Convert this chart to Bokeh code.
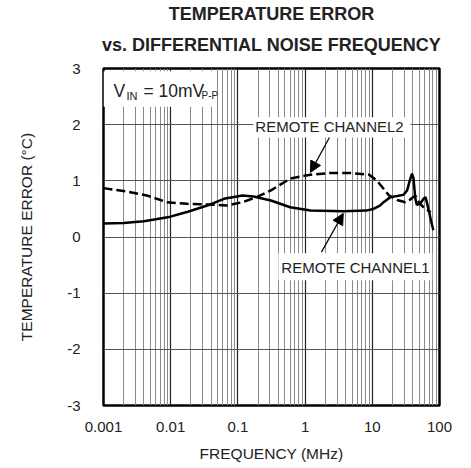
import math
from bokeh.plotting import figure
from bokeh.models import FixedTicker, Title, Label, Arrow, NormalHead, Range1d
from bokeh.embed import file_html
from bokeh.resources import INLINE

FONT = "Liberation Sans"

# ---- data ----
freq_ch1 = [0.001, 0.002, 0.004, 0.009, 0.018, 0.035, 0.062, 0.117, 0.17, 0.31, 0.6, 1.2,
            3.7, 8, 10.4, 13, 14.7, 18.6, 23.4, 29, 33, 36, 39, 41, 43.6, 46, 52, 58, 62,
            66, 70, 75, 81]
temp_ch1 = [0.24, 0.25, 0.28, 0.35, 0.45, 0.56, 0.68, 0.74, 0.72, 0.65, 0.53, 0.47,
            0.46, 0.47, 0.5, 0.56, 0.62, 0.71, 0.73, 0.75, 0.83, 1.0, 1.13, 1.05, 0.69, 0.57,
            0.6, 0.68, 0.71, 0.58, 0.45, 0.28, 0.12]

freq_ch2 = [0.001, 0.0022, 0.0044, 0.0088, 0.0175, 0.035, 0.069, 0.117, 0.19, 0.31, 0.6,
            1.2, 2.4, 4.7, 9, 11.8, 14.7, 17.7, 23.4, 31, 36, 41.5, 45, 50, 58, 66, 74]
temp_ch2 = [0.87, 0.81, 0.74, 0.62, 0.59, 0.58, 0.56, 0.62, 0.71, 0.83, 1.04,
            1.11, 1.14, 1.14, 1.11, 1.0, 0.86, 0.74, 0.66, 0.62, 0.66, 0.72, 0.72, 0.6, 0.53, 0.48, 0.44]

x_ticks = [0.001, 0.01, 0.1, 1, 10, 100]
x_tick_labels = ["0.001", "0.01", "0.1", "1", "10", "100"]
y_ticks = [-3, -2, -1, 0, 1, 2, 3]
y_tick_labels = ["-3", "-2", "-1", "0", "1", "2", "3"]

title_lines = ["TEMPERATURE ERROR", "vs. DIFFERENTIAL NOISE FREQUENCY"]

# ---- figure ----
p = figure(width=471, height=468, x_axis_type="log",
           x_range=Range1d(0.001, 100), y_range=Range1d(-3, 3),
           output_backend="svg", toolbar_location=None, title=None,
           min_border_left=103, min_border_right=32, min_border_top=68, min_border_bottom=63)
p.background_fill_color = "white"
p.border_fill_color = "white"
p.outline_line_color = "black"
p.outline_line_width = 2.5

minor = [m * 10.0 ** e for e in range(-3, 2) for m in range(2, 10)]
xt = FixedTicker(ticks=x_ticks, minor_ticks=minor)
p.xaxis.ticker = xt
p.xgrid.ticker = xt
p.xaxis.major_label_overrides = {t: l for t, l in zip(x_ticks, x_tick_labels)}
yt = FixedTicker(ticks=y_ticks)
p.yaxis.ticker = yt
p.ygrid.ticker = yt
p.yaxis.major_label_overrides = {t: l for t, l in zip(y_ticks, y_tick_labels)}

p.xgrid.grid_line_color = "#222222"
p.xgrid.grid_line_width = 1.2
p.xgrid.minor_grid_line_color = "#8a8a8a"
p.xgrid.minor_grid_line_width = 1
p.ygrid.grid_line_color = "#555555"
p.ygrid.grid_line_width = 1.2

for ax in (p.xaxis[0], p.yaxis[0]):
    ax.axis_line_color = None
    ax.major_tick_line_color = None
    ax.minor_tick_line_color = None
    ax.major_tick_out = 0
    ax.major_tick_in = 0
    ax.major_label_text_font = FONT
    ax.major_label_text_font_size = "15px"
    ax.major_label_text_color = "#222222"
    ax.axis_label_text_font = FONT
    ax.axis_label_text_font_style = "normal"
    ax.axis_label_text_color = "#222222"
    ax.axis_label_text_font_size = "15.5px"

p.xaxis.axis_label = "FREQUENCY (MHz)"
p.yaxis.axis_label = "TEMPERATURE ERROR (°C)"
p.xaxis.major_label_standoff = 12
p.xaxis.axis_label_standoff = 10
p.yaxis.major_label_standoff = 23
p.yaxis.axis_label_standoff = 29

# two title lines
t2 = Title(text=title_lines[1], align="center", text_font=FONT,
           text_font_size="18px", text_font_style="bold", text_color="#222222",
           standoff=28, offset=0)
t1 = Title(text=title_lines[0], align="center", text_font=FONT,
           text_font_size="18px", text_font_style="bold", text_color="#222222",
           standoff=-10, offset=0)
p.add_layout(t2, "above")
p.add_layout(t1, "above")

# curves
p.line(freq_ch2, temp_ch2, line_color="black", line_width=2.5, line_dash="9 4")
p.line(freq_ch1, temp_ch1, line_color="black", line_width=2.5)

# white label boxes
p.quad(left=[0.001, 0.17, 0.40], right=[0.046, 37, 78], top=[2.95, 2.13, -0.29],
       bottom=[2.32, 1.77, -0.77], fill_color="white", line_color=None)

# V_IN label with subscripts
ylab = 2.60
def lab(text, dx, dy, size):
    p.add_layout(Label(x=0.001, y=ylab, x_offset=dx, y_offset=dy, text=text,
                       text_font=FONT, text_font_size=size, text_color="#222222",
                       text_baseline="alphabetic", text_align="left"))
lab("V", 10, 0, "17.5px")
lab("IN", 23, -5, "11px")
lab("= 10mV", 40, 0, "17.5px")
lab("P-P", 98, -5, "10px")

# series labels
p.add_layout(Label(x=2.31, y=1.96, text="REMOTE CHANNEL2", text_font=FONT,
                   text_font_size="15px", text_color="#222222",
                   text_align="center", text_baseline="middle"))
p.add_layout(Label(x=5.62, y=-0.54, text="REMOTE CHANNEL1", text_font=FONT,
                   text_font_size="15px", text_color="#222222",
                   text_align="center", text_baseline="middle"))

# arrows
p.add_layout(Arrow(end=NormalHead(size=11, fill_color="black", line_color="black"),
                   x_start=2.3, y_start=1.77, x_end=1.2, y_end=1.15,
                   line_color="black", line_width=1.2))
p.add_layout(Arrow(end=NormalHead(size=11, fill_color="black", line_color="black"),
                   x_start=1.75, y_start=-0.27, x_end=3.7, y_end=0.42,
                   line_color="black", line_width=1.2))

# side note
p.add_layout(Label(x=143, y=3, text="MAX6695 toc06", angle=math.pi / 2,
                   text_font=FONT, text_font_size="10px", text_color="#222222",
                   text_align="right", text_baseline="middle"))

open("out.html", "w").write(file_html(p, INLINE))
